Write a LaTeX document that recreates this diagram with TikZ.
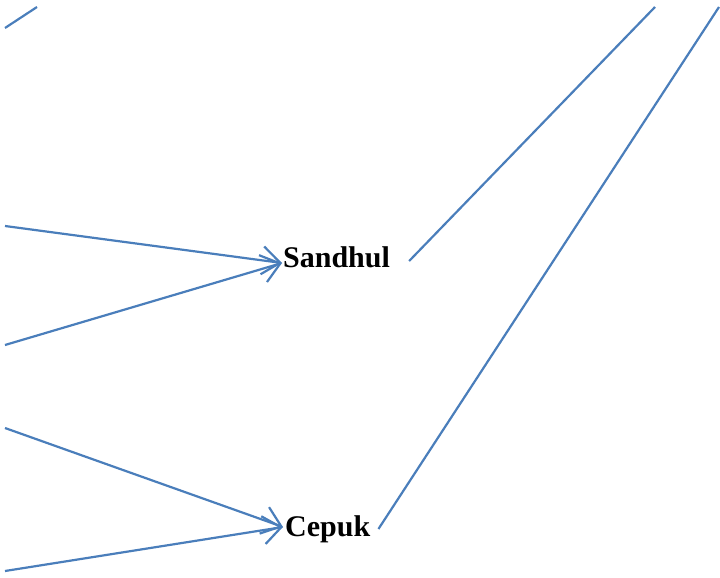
\documentclass[tikz,border=0pt]{standalone}
\usepackage{fontspec}
\setmainfont{Liberation Serif}
\usetikzlibrary{arrows.meta}
\definecolor{linkblue}{RGB}{74,126,187}

\begin{document}
\begin{tikzpicture}[x=1pt,y=-1pt,
    link/.style={draw=linkblue, line width=2.2pt},
    arr/.style={link, -{Straight Barb[length=18pt,width=28pt,line width=2.2pt]}},
    place/.style={font=\fontsize{30}{34}\selectfont\bfseries, inner sep=0pt, anchor=base west}]
    \useasboundingbox (0,0) rectangle (720,578);
%    places
    \node[place] (sandhul) at (283,267) {Sandhul};
    \node[place] (cepuk) at (285,536) {Cepuk};
%    loose ends
    \coordinate (tl1) at (5,28);
    \coordinate (tl2) at (37,7);
    \coordinate (s1) at (5,226);
    \coordinate (s2) at (5,345);
    \coordinate (c1) at (5,428);
    \coordinate (c2) at (5,571);
    \coordinate (sout) at (655,7);
    \coordinate (cout) at (719,7);
    \draw[link] (tl1)--(tl2);
    \draw[arr] (s1)--([shift={(-1pt,4pt)}]sandhul.base west);
    \draw[arr] (s2)--([shift={(-1pt,4pt)}]sandhul.base west);
    \draw[arr] (c1)--([shift={(-2pt,9pt)}]cepuk.base west);
    \draw[arr] (c2)--([shift={(-2pt,9pt)}]cepuk.base west);
    \draw[link] ([shift={(19pt,6pt)}]sandhul.base east)--(sout);
    \draw[link] ([shift={(8pt,7pt)}]cepuk.base east)--(cout);
  \end{tikzpicture}
\end{document}
